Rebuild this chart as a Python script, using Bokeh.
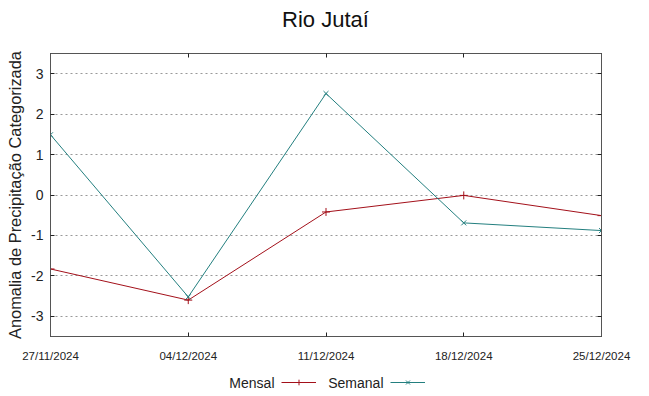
import pandas as pd
from bokeh.plotting import figure
from bokeh.layouts import column
from bokeh.models import (ColumnDataSource, FixedTicker, DatetimeTickFormatter, LinearAxis,
                          DatetimeAxis, Range1d, Legend, LegendItem, Label)
from bokeh.embed import file_html
from bokeh.resources import INLINE

title_text = "Rio Jutaí"
dates = ["2024-11-27", "2024-12-04", "2024-12-11", "2024-12-18", "2024-12-25"]
mensal = [-1.83, -2.6, -0.42, -0.01, -0.51]
semanal = [1.49, -2.52, 2.51, -0.69, -0.88]
y_ticks = [-3, -2, -1, 0, 1, 2, 3]
series_names = ["Mensal", "Semanal"]

x = pd.to_datetime(dates)
src = ColumnDataSource(dict(x=x, mensal=mensal, semanal=semanal))

RED = "#a3101a"
TEAL = "#237f7f"
FRAME = "#555555"


def strip(h):
    f = figure(width=649, height=h, output_backend="svg", toolbar_location=None,
               x_axis_location=None, y_axis_location=None,
               x_range=Range1d(0, 1), y_range=Range1d(0, 1),
               min_border_left=0, min_border_right=0, min_border_top=0, min_border_bottom=0)
    f.title.visible = False
    f.grid.visible = False
    f.outline_line_color = None
    f.border_fill_color = "white"
    return f


# header with the title (screen x measured from the aligned frame's left edge)
head = strip(40)
head.add_layout(Label(x=275, y=21, x_units="screen", y_units="screen", text=title_text,
                      text_align="center", text_baseline="alphabetic",
                      text_font="Liberation Sans", text_font_size="22px", text_color="#111111"))

p = figure(width=649, height=326, output_backend="svg", toolbar_location=None,
           x_axis_type="datetime",
           x_range=Range1d(x[0], x[-1]), y_range=Range1d(-3.5, 3.5),
           min_border_left=50, min_border_right=48, min_border_top=13, min_border_bottom=30)
p.title.visible = False

p.outline_line_color = FRAME
p.background_fill_color = "white"
p.border_fill_color = "white"

p.xgrid.visible = False
p.ygrid.grid_line_color = "#999999"
p.ygrid.grid_line_dash = "2 3"
p.ygrid.grid_line_width = 1

tick_ms = [d.value // 10**6 for d in x]
p.xaxis.ticker = FixedTicker(ticks=tick_ms)
p.xaxis.formatter = DatetimeTickFormatter(days="%d/%m/%Y", months="%d/%m/%Y", hours="%d/%m/%Y")
p.yaxis.ticker = FixedTicker(ticks=y_ticks)
p.yaxis.major_label_overrides = {float(t): str(t) for t in y_ticks}

for ax in [p.xaxis[0], p.yaxis[0]]:
    ax.axis_line_color = FRAME
    ax.major_tick_line_color = "#222222"
    ax.major_tick_in = 4
    ax.major_tick_out = 0
    ax.minor_tick_line_color = None
    ax.major_label_text_color = "#222222"

p.xaxis.major_label_text_font = "Liberation Sans"
p.xaxis.major_label_text_font_size = "11.5px"
p.xaxis.major_label_standoff = 13
p.yaxis.major_label_text_font = "Liberation Sans"
p.yaxis.major_label_text_font_size = "14px"
p.yaxis.major_label_standoff = 7
p.yaxis.axis_label = "Anomalia de Precipitação Categorizada"
p.yaxis.axis_label_text_font = "Liberation Sans"
p.yaxis.axis_label_text_font_size = "16.4px"
p.yaxis.axis_label_text_font_style = "normal"
p.yaxis.axis_label_text_color = "#222222"
p.yaxis.axis_label_standoff = 4

# mirrored ticks
right = LinearAxis(ticker=FixedTicker(ticks=y_ticks), major_tick_in=4, major_tick_out=0,
                   minor_tick_line_color=None, major_label_text_font_size="0px",
                   major_label_standoff=0,
                   axis_line_color=FRAME, major_tick_line_color="#222222")
top = DatetimeAxis(ticker=FixedTicker(ticks=tick_ms), major_tick_in=4, major_tick_out=0,
                   minor_tick_line_color=None, major_label_text_font_size="0px",
                   major_label_standoff=0,
                   axis_line_color=FRAME, major_tick_line_color="#222222")
p.add_layout(right, "right")
p.add_layout(top, "above")

p.line("x", "mensal", source=src, line_color=RED, line_width=1)
p.scatter("x", "mensal", source=src, marker="cross", size=8, line_color=RED, line_width=1)
p.line("x", "semanal", source=src, line_color=TEAL, line_width=1)
p.scatter("x", "semanal", source=src, marker="x", size=7, line_color=TEAL, line_width=1)

# legend strip (gnuplot style: text then sample); the series lie outside this strip's view
lg = strip(30)
r1 = lg.line("x", "mensal", source=src, line_color=RED, line_width=1)
s1 = lg.scatter("x", "mensal", source=src, marker="cross", size=8, line_color=RED, line_width=1)
r2 = lg.line("x", "semanal", source=src, line_color=TEAL, line_width=1)
s2 = lg.scatter("x", "semanal", source=src, marker="x", size=7, line_color=TEAL, line_width=1)

for rs, x0 in [([r1, s1], 231), ([r2, s2], 340)]:
    lg.add_layout(Legend(items=[LegendItem(label=" ", renderers=rs)],
                         location=(x0, 7), glyph_width=35, glyph_height=14, label_height=14,
                         label_standoff=0, padding=0, margin=0,
                         border_line_color=None, background_fill_alpha=0,
                         label_text_font="Liberation Sans", label_text_font_size="14px"))

for name, xr in zip(series_names, [224, 333]):
    lg.add_layout(Label(x=xr, y=14, x_units="screen", y_units="screen", text=name,
                        text_align="right", text_baseline="middle",
                        text_font="Liberation Sans", text_font_size="14px",
                        text_color="#222222"))

layout = column(head, p, lg, spacing=0)
open("out.html", "w").write(file_html(layout, INLINE))
